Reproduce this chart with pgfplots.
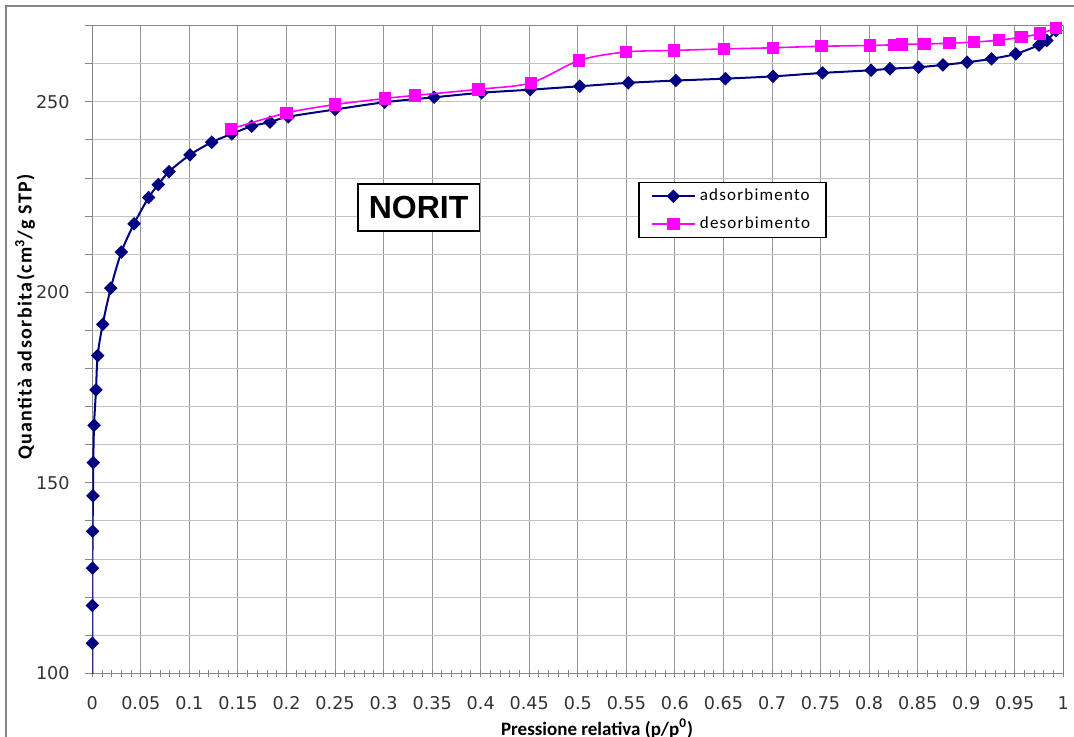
\documentclass[border=0pt]{standalone}
\usepackage{fontspec}
\setmainfont{Carlito}
\newfontfamily\tickfont{DejaVu Sans}
\newfontfamily\titlefont{Liberation Sans}
\newfontfamily\spacedfont[LetterSpace=7]{Carlito}
\usepackage{pgfplots}
\pgfplotsset{compat=1.18}
\definecolor{adsblue}{RGB}{0,0,128}
\definecolor{desmag}{RGB}{255,0,255}
\definecolor{gridv}{RGB}{150,150,150}
\definecolor{gridh}{RGB}{195,195,195}
\definecolor{axgray}{RGB}{134,134,134}

\pgfplotstableread{
x y
0.00005 107.9
0.0001 117.8
0.00015 127.6
0.0003 137.3
0.0007 146.6
0.0010 155.3
0.0018 165.1
0.0038 174.4
0.0055 183.4
0.0107 191.6
0.019 201.1
0.030 210.6
0.043 218.0
0.058 224.9
0.068 228.3
0.079 231.7
0.1006 236.1
0.123 239.4
0.1436 241.6
0.164 243.6
0.183 244.7
0.2018 246.1
0.250 248.0
0.301 249.9
0.352 251.2
0.401 252.4
0.451 253.2
0.502 254.1
0.552 255.0
0.601 255.6
0.652 256.1
0.701 256.7
0.752 257.6
0.802 258.3
0.8215 258.7
0.851 259.1
0.876 259.7
0.901 260.4
0.926 261.3
0.951 262.6
0.975 264.9
0.983 266.1
0.9925 268.7
}\adsdata

\pgfplotstableread{
x y
0.1428 242.9
0.2002 247.1
0.250 249.3
0.3016 250.9
0.3323 251.7
0.3976 253.3
0.452 255.0
0.5015 260.9
0.5496 263.1
0.599 263.5
0.6506 263.9
0.7008 264.2
0.751 264.6
0.801 264.8
0.826 265.0
0.834 265.1
0.857 265.2
0.8826 265.4
0.908 265.7
0.934 266.2
0.957 267.0
0.976 267.9
0.9925 269.4
}\desdata

\begin{document}
\begin{tikzpicture}
\useasboundingbox (0,0) rectangle (537pt,368.5pt);
\draw[axgray, line width=1pt] (3pt,0) -- (3pt,365.6pt) -- (537pt,365.6pt);
\begin{axis}[
  at={(46.15pt,31.85pt)}, anchor=south west,
  scale only axis, width=485.5pt, height=323.8pt,
  xmin=0, xmax=1, ymin=100, ymax=270,
  clip mode=individual,
  axis line style={axgray, line width=0.6pt},
  tick style={axgray, line width=0.5pt},
  tick pos=left,
  major tick length=3.5pt, minor tick length=3.5pt,
  xtick align=center, ytick align=outside,
  xtick={0,0.05,0.1,0.15,0.2,0.25,0.3,0.35,0.4,0.45,0.5,0.55,0.6,0.65,0.7,0.75,0.8,0.85,0.9,0.95,1},
  xticklabels={0,0.05,0.1,0.15,0.2,0.25,0.3,0.35,0.4,0.45,0.5,0.55,0.6,0.65,0.7,0.75,0.8,0.85,0.9,0.95,1},
  minor x tick num=4,
  ytick={100,110,...,270},
  yticklabels={100,,,,,150,,,,,200,,,,,250,,},
  xmajorgrids, ymajorgrids,
  major x grid style={gridv, line width=0.5pt},
  major y grid style={gridh, line width=0.5pt},
  ticklabel style={font=\tickfont\fontsize{8.8}{10.5}\selectfont, text=black!80},
  xticklabel style={yshift=-6.5pt},
  yticklabel style={xshift=-4.3pt},
  xlabel={Pressione relativa (p/p\textsuperscript{0})},
  xlabel style={at={(axis description cs:0.5198,-0.0953)}, anchor=base, font=\bfseries\fontsize{9.5}{11}\selectfont},
  ylabel={Quantità adsorbita(cm\textsuperscript{3}/g STP)},
  ylabel style={at={(axis description cs:-0.0693,0.5502)}, anchor=center, rotate=0, font=\spacedfont\bfseries\fontsize{10}{12}\selectfont},
  legend style={at={(0.5623,0.7582)}, anchor=north west, draw=black, line width=0.6pt,
    font=\spacedfont\fontsize{8.5}{10}\selectfont, cells={anchor=west},
    inner xsep=6pt, inner ysep=1pt, row sep=2.5pt},
  legend image code/.code={\draw[mark repeat=2,mark phase=2,#1] plot coordinates {(0pt,0pt) (10.75pt,0pt) (21.5pt,0pt)};},
]
\addplot[adsblue, line width=1pt, smooth, tension=0.5, mark=square*, mark size=1.9pt,
  mark options={rotate=45, fill=adsblue, draw=adsblue, solid}] table[x=x,y=y] {\adsdata};
\addlegendentry{adsorbimento}
\addplot[desmag, line width=0.8pt, smooth, tension=0.5, mark=square*, mark size=2.7pt,
  mark options={fill=desmag, draw=desmag, solid}] table[x=x,y=y] {\desdata};
\addlegendentry{desorbimento}
\addplot[adsblue, line width=1pt, forget plot] coordinates {(0.00002,97.5) (0.00005,107.9)};
\node[draw=black, line width=0.75pt, fill=white, minimum width=60.8pt, minimum height=23.35pt,
  inner sep=0pt, font=\titlefont\bfseries\fontsize{16}{19}\selectfont] at (axis cs:0.336,222.3) {NORIT};
\end{axis}
\end{tikzpicture}
\end{document}
